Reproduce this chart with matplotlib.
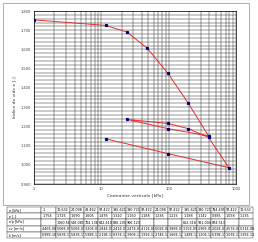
import matplotlib.pyplot as plt
from matplotlib.patches import Rectangle
from matplotlib.ticker import FixedLocator, FormatStrFormatter, NullFormatter
import numpy as np

# essai oedometrique : chargement / dechargement / rechargement
sigma = [1, 11.632, 24.098, 48.462, 97.422, 195.621, 390.721, 97.422,
         24.098, 97.422, 195.621, 390.721, 784.491, 97.422, 11.632]
e = [1.754, 1.725, 1.690, 1.605, 1.476, 1.320, 1.150, 1.188,
     1.236, 1.215, 1.188, 1.142, 0.985, 1.058, 1.135]

sig_p = ['', '1060.565', '548.081', '704.138', '842.410', '836.205', '906.123',
         '', '', '', '862.318', '931.004', '874.513', '', '']
cv = ['4.46E-08', '5.06E-09', '5.06E-09', '3.20E-09', '2.84E-09', '2.41E-09',
      '2.47E-09', '4.11E-08', '6.02E-08', '3.88E-09', '3.15E-09', '2.96E-09',
      '2.02E-09', '4.57E-08', '5.31E-08']
k = ['6.98E-10', '5.83E-11', '5.83E-11', '5.98E-11', '2.19E-11', '8.37E-12',
     '3.90E-12', '1.91E-12', '2.74E-12', '1.66E-12', '1.48E-12', '1.20E-12',
     '6.39E-13', '1.03E-12', '1.35E-12']
row_labels = ["σ [kPa]", "e [-]", "σ'p [kPa]", "cv [m²/s]", "k [m/s]"]

W, H = 258, 242
fig = plt.figure(figsize=(W / 100, H / 100), dpi=100)
fig.patch.set_facecolor('white')

# cadre du graphique
bg = fig.add_axes([0, 0, 1, 1], zorder=-5)
bg.axis('off')
bg.set_xlim(0, W)
bg.set_ylim(H, 0)
bg.add_patch(Rectangle((3, 3), 246, 202, facecolor='white',
                       edgecolor='#a0a0a0', linewidth=0.6))

ax = fig.add_axes([34 / W, 1 - 184 / H, 202 / W, 173 / H])
ax.set_xscale('log')
ax.set_xlim(1, 1000)
ax.set_ylim(0.9, 1.8)
ax.yaxis.set_major_locator(FixedLocator(np.arange(0.9, 1.81, 0.1)))
ax.yaxis.set_minor_locator(FixedLocator(np.arange(0.9, 1.8, 0.02)))
ax.yaxis.set_major_formatter(FormatStrFormatter('%.3f'))
ax.xaxis.set_major_formatter(FormatStrFormatter('%d'))
ax.xaxis.set_minor_formatter(NullFormatter())
ax.grid(True, which='both', color='#303030', linewidth=0.35)
ax.set_axisbelow(True)
ax.tick_params(which='both', labelsize=2.6, length=0, pad=2, colors='#404040')
for s in ax.spines.values():
    s.set_linewidth(0.5)

ax.plot(sigma, e, color='#e03030', linewidth=0.7, marker='s', markersize=1.3,
        markerfacecolor='#000080', markeredgecolor='#000080', zorder=3)
ax.set_xlabel('Contrainte verticale [kPa]', fontsize=3.2, labelpad=2, color='#303030')
ax.set_ylabel('Indice de vide e [-]', fontsize=3.2, labelpad=3, color='#303030')

# tableau des resultats
tax = fig.add_axes([7 / W, 1 - 238 / H, 246 / W, 31 / H])
tax.axis('off')
cells = [
    [f'{v:g}' if v == 1 else f'{v:.3f}' for v in sigma],
    [f'{v:.3f}' for v in e],
    sig_p, cv, k,
]
cells = [[lab] + row for lab, row in zip(row_labels, cells)]
ncol = len(cells[0])
widths = [0.14] + [0.86 / (ncol - 1)] * (ncol - 1)
tb = tax.table(cellText=cells, colWidths=widths, bbox=[0, 0, 1, 1], cellLoc='left')
tb.auto_set_font_size(False)
tb.set_fontsize(2.4)
for (r, c), cell in tb.get_celld().items():
    cell.set_linewidth(0.3)
    cell.set_edgecolor('#202020')
    cell.PAD = 0.05

fig.savefig('out.png', dpi=100)
